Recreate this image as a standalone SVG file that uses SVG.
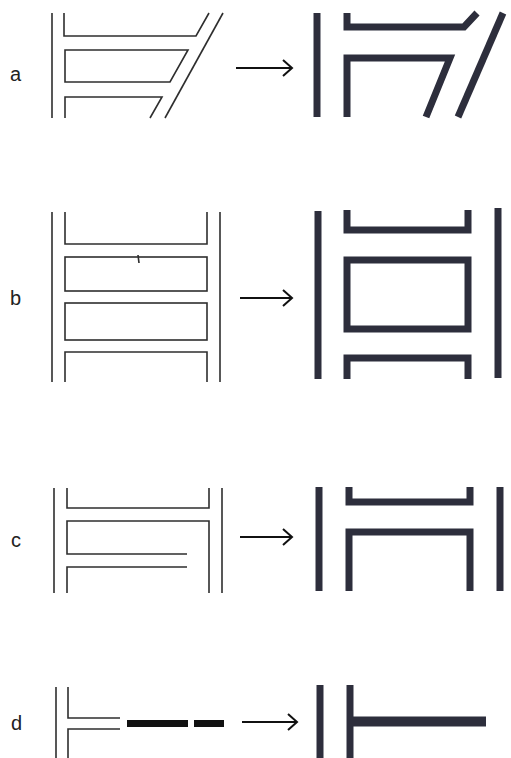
<svg xmlns="http://www.w3.org/2000/svg" width="511" height="758" viewBox="0 0 511 758">
<style>
.bg{fill:#ffffff}
.thin{fill:none;stroke:#2e2e2e;stroke-width:1.6;stroke-linejoin:miter}
.thick{fill:none;stroke:#2d2e3c;stroke-width:7;stroke-linejoin:miter;stroke-linecap:butt}
.dash{fill:none;stroke:#111111;stroke-width:7;stroke-linecap:butt}
.arrow{fill:none;stroke:#111111;stroke-width:2}
.lbl{font-family:"Liberation Sans",Arial,sans-serif;font-size:20px;fill:#222222}
</style>
<defs>
<marker id="ah" markerWidth="14" markerHeight="18" refX="12" refY="9" orient="auto" markerUnits="userSpaceOnUse">
<path d="M3,1 L12,9 L3,17" fill="none" stroke="#111111" stroke-width="2"/>
</marker>
</defs>
<rect class="bg" x="0" y="0" width="511" height="758"/>

<g id="label-a"><text class="lbl" x="10" y="81">a</text></g>
<g id="a-before">
<line class="thin" x1="52" y1="13" x2="52" y2="118"/>
<polyline class="thin" points="64,13 64,36 196,36 209,13"/>
<polygon class="thin" points="65,50 188,50 170,82 65,82"/>
<polyline class="thin" points="65,118 65,97 162,97 150,118"/>
<line class="thin" x1="223" y1="13" x2="165" y2="118"/>
</g>
<g id="a-after">
<line class="thick" x1="317" y1="13" x2="317" y2="117"/>
<polyline class="thick" points="347,13 347,27 464,27 477,13"/>
<polyline class="thick" points="347,117 347,58 450,58 426,117"/>
<line class="thick" x1="503" y1="13" x2="458" y2="117"/>
</g>

<g id="label-b"><text class="lbl" x="10" y="305">b</text></g>
<g id="b-before">
<line class="thin" x1="52" y1="212" x2="52" y2="382"/>
<polyline class="thin" points="65,212 65,244 207,244 207,212"/>
<rect class="thin" x="65" y="257" width="142" height="34"/>
<rect class="thin" x="65" y="303" width="142" height="37"/>
<polyline class="thin" points="65,382 65,352 207,352 207,382"/>
<line class="thin" x1="220" y1="212" x2="220" y2="382"/>
<line class="thin" x1="138" y1="255" x2="139" y2="263"/>
</g>
<g id="b-after">
<line class="thick" x1="318" y1="211" x2="318" y2="379"/>
<polyline class="thick" points="347,210 347,230 468,230 468,210"/>
<rect class="thick" x="347" y="260" width="121" height="69"/>
<polyline class="thick" points="347,379 347,358 468,358 468,379"/>
<line class="thick" x1="498" y1="208" x2="498" y2="378"/>
</g>

<g id="label-c"><text class="lbl" x="11" y="547">c</text></g>
<g id="c-before">
<line class="thin" x1="54" y1="488" x2="54" y2="593"/>
<polyline class="thin" points="67,488 67,508 209,508 209,488"/>
<polyline class="thin" points="187,554 67,554 67,521 209,521 209,593"/>
<polyline class="thin" points="187,567 67,567 67,593"/>
<line class="thin" x1="222" y1="488" x2="222" y2="593"/>
</g>
<g id="c-after">
<line class="thick" x1="319" y1="487" x2="319" y2="591"/>
<polyline class="thick" points="349,487 349,502 470,502 470,487"/>
<polyline class="thick" points="349,591 349,532 470,532 470,591"/>
<line class="thick" x1="500" y1="487" x2="500" y2="591"/>
</g>

<g id="label-d"><text class="lbl" x="11" y="730">d</text></g>
<g id="d-before">
<line class="thin" x1="56" y1="687" x2="56" y2="758"/>
<polyline class="thin" points="68,687 68,718 120,718"/>
<polyline class="thin" points="120,729 68,729 68,758"/>
<line class="dash" x1="127" y1="723.5" x2="188" y2="723.5"/>
<line class="dash" x1="194" y1="723.5" x2="224" y2="723.5"/>
</g>
<g id="d-after">
<line class="thick" x1="320" y1="685" x2="320" y2="758"/>
<line class="thick" x1="350" y1="685" x2="350" y2="758"/>
<line class="thick" style="stroke-width:10" x1="350" y1="721.5" x2="486" y2="721.5"/>
</g>

<g id="connectors">
<line class="arrow" x1="236" y1="68" x2="292" y2="68" marker-end="url(#ah)"/>
<line class="arrow" x1="240" y1="298" x2="292" y2="298" marker-end="url(#ah)"/>
<line class="arrow" x1="240" y1="537" x2="292" y2="537" marker-end="url(#ah)"/>
<line class="arrow" x1="242" y1="722" x2="297" y2="722" marker-end="url(#ah)"/>
</g>
</svg>
